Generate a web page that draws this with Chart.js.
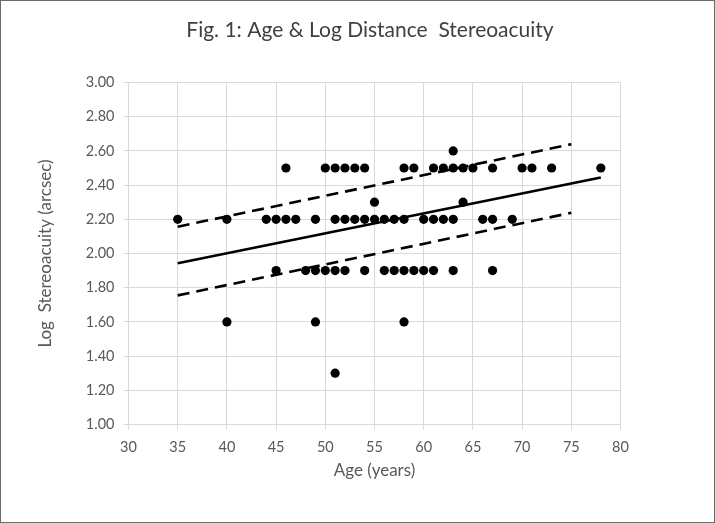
<!DOCTYPE html>
<html>
<head>
<meta charset="utf-8">
<script src="https://cdn.jsdelivr.net/npm/chart.js@4.4.0/dist/chart.umd.min.js"></script>
<style>
  body { margin: 0; background: #fff; }
  #wrap { width: 713px; height: 521px; border: 1px solid #6b6b6b; }
</style>
</head>
<body>
<div id="wrap"><canvas id="myChart" width="713" height="521"></canvas></div>
<script>
// log stereoacuity levels and the ages recorded at each level
const levels = [2.6, 2.5, 2.3, 2.2, 1.9, 1.6, 1.3]
const agesAt260 = [63]
const agesAt250 = [46, 50, 51, 52, 53, 54, 58, 59, 61, 62, 63, 64, 65, 67, 70, 71, 73, 78]
const agesAt230 = [55, 64]
const agesAt220 = [35, 40, 44, 45, 46, 47, 49, 51, 52, 53, 54, 55, 56, 57, 58, 60, 61, 62, 63, 66, 67, 69]
const agesAt190 = [45, 48, 49, 50, 51, 52, 54, 56, 57, 58, 59, 60, 61, 63, 67]
const agesAt160 = [40, 49, 58]
const agesAt130 = [51]

// regression line and its bands
const fitX = [35, 78]
const fitY = [1.943, 2.445]
const bandX = [35, 75]
const upperY = [2.157, 2.639]
const lowerY = [1.755, 2.238]

const xTicks = { min: 30, max: 80, step: 5 }
const yTicks = { min: 1, max: 3, step: 0.2 }

const rows = [agesAt260, agesAt250, agesAt230, agesAt220, agesAt190, agesAt160, agesAt130]
const points = []
rows.forEach((ages, i) => {
    ages.forEach(a => points.push({ x: a, y: levels[i] }))
})
const toXY = (xs, ys) => xs.map((x, i) => ({ x: x, y: ys[i] }))

const fontFamily = 'Lato, "Open Sans", sans-serif'
const gridColor = '#d9d9d9'
const textColor = '#595959'

const lineInfo = {
    showLine: true,
    pointRadius: 0,
    borderColor: '#000',
    borderWidth: 2.6,
    fill: false
}

new Chart(document.getElementById('myChart'), {
    type: 'scatter',
    data: {
        datasets: [
            { data: toXY(fitX, fitY), ...lineInfo },
            { data: toXY(bandX, upperY), borderDash: [12, 7], ...lineInfo },
            { data: toXY(bandX, lowerY), borderDash: [12, 7], ...lineInfo },
            {
                data: points,
                backgroundColor: '#000',
                borderWidth: 0,
                pointRadius: 4.6
            }
        ]
    },
    options: {
        responsive: false,
        animation: false,
        layout: { padding: { left: 25, right: 0, top: 0, bottom: 0 } },
        plugins: {
            legend: { display: false },
            tooltip: { enabled: false },
            title: {
                display: true,
                text: 'Fig. 1: Age & Log Distance  Stereoacuity',
                color: '#404040',
                font: { family: fontFamily, size: 21, weight: 'normal' },
                padding: { top: 17, bottom: 39.3 }
            }
        },
        scales: {
            x: {
                type: 'linear',
                min: xTicks.min,
                max: xTicks.max,
                ticks: {
                    stepSize: xTicks.step,
                    color: textColor,
                    padding: 9,
                    font: { family: fontFamily, size: 14.5 }
                },
                grid: { color: gridColor, tickLength: 5 },
                border: { color: gridColor },
                title: {
                    display: true,
                    text: 'Age (years)',
                    color: textColor,
                    font: { family: fontFamily, size: 17 },
                    padding: { top: 0, bottom: 41 }
                },
                afterFit: scale => { scale.height = 97.5 }
            },
            y: {
                min: yTicks.min,
                max: yTicks.max,
                ticks: {
                    stepSize: yTicks.step,
                    color: textColor,
                    padding: 9,
                    font: { family: fontFamily, size: 14.5 },
                    callback: v => v.toFixed(2)
                },
                grid: { color: gridColor, tickLength: 5 },
                border: { color: gridColor },
                title: {
                    display: true,
                    text: 'Log  Stereoacuity (arcsec)',
                    color: textColor,
                    font: { family: fontFamily, size: 17 },
                    padding: { top: 9, bottom: 0 }
                },
                afterFit: scale => { scale.width = 102.5 }
            },
            // empty right-hand scale that only reserves the white margin
            yRight: {
                position: 'right',
                min: yTicks.min,
                max: yTicks.max,
                ticks: { display: false },
                grid: { display: false },
                border: { display: false },
                afterFit: scale => { scale.width = 93.5 }
            }
        }
    }
})
</script>
</body>
</html>
